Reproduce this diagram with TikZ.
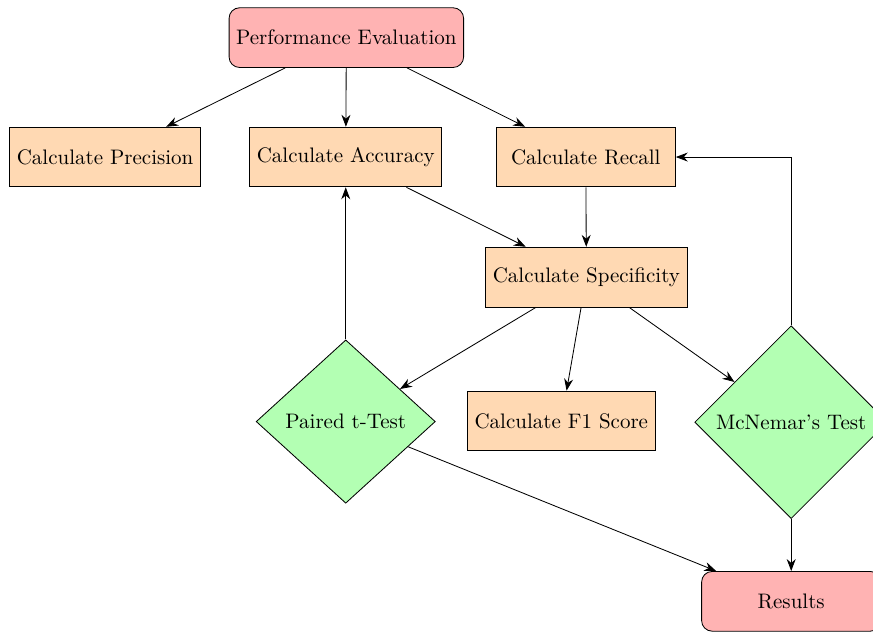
\documentclass[tikz,border=0pt]{standalone}
\usetikzlibrary{arrows.meta, shapes.geometric}
\definecolor{cred}{HTML}{FFB3B3}
\definecolor{cpeach}{HTML}{FFD9B3}
\definecolor{cgreen}{HTML}{B3FFB3}
\tikzset{
  startstop/.style={draw, fill=cred, rounded corners=5pt, minimum width=3cm, minimum height=1cm, align=center},
  process/.style={draw, fill=cpeach, minimum width=3cm, minimum height=1cm, align=center},
  decision/.style={draw, fill=cgreen, diamond, minimum width=3cm, minimum height=1cm, align=center},
  arrow/.style={-{Stealth[length=2mm]}},
}
\begin{document}
\begin{tikzpicture}
  \clip (0,0) rectangle (14.62,-10.57);
  \node[startstop] (eval) at (5.80,-0.63) {Performance Evaluation};
  \node[process] (prec) at (1.76,-2.63) {Calculate Precision};
  \node[process] (acc) at (5.79,-2.63) {Calculate Accuracy};
  \node[process] (rec) at (9.81,-2.63) {Calculate Recall};
  \node[process] (spec) at (9.82,-4.64) {Calculate Specificity};
  \node[decision] (ttest) at (5.79,-7.06) {Paired t-Test};
  \node[process] (fone) at (9.40,-7.05) {Calculate F1 Score};
  \node[decision] (mcn) at (13.25,-7.07) {McNemar's Test};
  \node[startstop] (res) at (13.25,-10.07) {Results};

  \draw[arrow] (eval) -- (prec);
  \draw[arrow] (eval) -- (acc);
  \draw[arrow] (eval) -- (rec);
  \draw[arrow] (acc) -- (spec);
  \draw[arrow] (rec) -- (spec);
  \draw[arrow] (spec) -- (ttest);
  \draw[arrow] (spec) -- (fone);
  \draw[arrow] (spec) -- (mcn);
  \draw[arrow] (ttest) -- (res);
  \draw[arrow] (mcn) -- (res);
  \draw[arrow] (ttest) -- (acc);
  \draw[arrow] (mcn) |- (rec);
\end{tikzpicture}
\end{document}
